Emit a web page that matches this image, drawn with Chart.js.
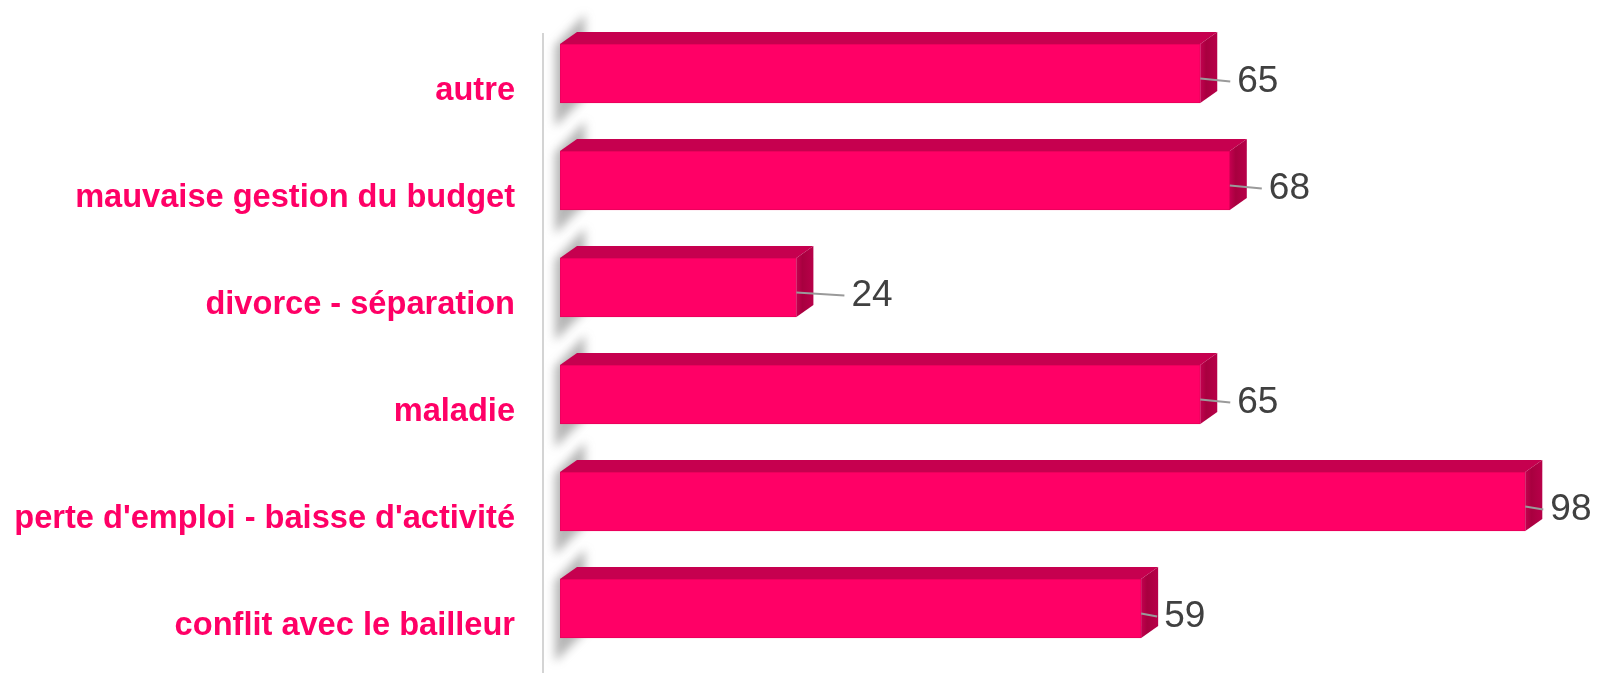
<!DOCTYPE html>
<html>
<head>
<meta charset="utf-8">
<script src="https://cdn.jsdelivr.net/npm/chart.js@4.4.1/dist/chart.umd.min.js"></script>
<style>
  html, body { margin: 0; padding: 0; background: #fff; }
  #wrap { width: 1603px; height: 673px; position: relative; }
</style>
</head>
<body>
<div id="wrap"><canvas id="causesChart"></canvas></div>
<script>
// données
var categories = ['autre', 'mauvaise gestion du budget', 'divorce - séparation', 'maladie', "perte d'emploi - baisse d'activité", 'conflit avec le bailleur'];
var values = [65, 68, 24, 65, 98, 59];

var FONT = '"Liberation Sans", Arial, sans-serif';
var DX = 17, DY = 12;

// ombre grise derrière le bord gauche des barres + ligne d'axe
var wallShadow = {
    id: 'wallShadow',
    beforeDatasetsDraw: function (chart) {
        var ctx = chart.ctx;
        var area = chart.chartArea;
        ctx.save();
        ctx.strokeStyle = '#d4d4d4';
        ctx.lineWidth = 2;
        ctx.beginPath();
        ctx.moveTo(area.left - 17, area.top + 13);
        ctx.lineTo(area.left - 17, chart.height);
        ctx.stroke();

        ctx.filter = 'blur(5px)';
        ctx.fillStyle = 'rgba(90,90,90,0.45)';
        chart.getDatasetMeta(0).data.forEach(function (bar) {
            var x0 = bar.base;
            var top = bar.y - bar.height / 2;
            var bottom = bar.y + bar.height / 2;
            ctx.beginPath();
            ctx.moveTo(x0 - 5, bottom + 24);
            ctx.lineTo(x0 - 5, top + 2);
            ctx.lineTo(x0 + DX + 8, top - DY - 18);
            ctx.lineTo(x0 + DX + 8, bottom - DY + 6);
            ctx.closePath();
            ctx.fill();
        });
        ctx.restore();
    }
};

// faces 3D (dessus + côté) et étiquettes de valeur
var bars3d = {
    id: 'bars3d',
    afterDatasetsDraw: function (chart, args, opts) {
        var ctx = chart.ctx;
        var ds = chart.data.datasets[0];
        ctx.save();
        chart.getDatasetMeta(0).data.forEach(function (bar, i) {
            var x0 = bar.base, x1 = bar.x;
            var top = bar.y - bar.height / 2;
            var bottom = bar.y + bar.height / 2;

            // dessus
            ctx.fillStyle = '#c6004f';
            ctx.beginPath();
            ctx.moveTo(x0, top);
            ctx.lineTo(x0 + DX, top - DY);
            ctx.lineTo(x1 + DX, top - DY);
            ctx.lineTo(x1, top);
            ctx.closePath();
            ctx.fill();

            // côté
            var g = ctx.createLinearGradient(x1, 0, x1 + DX, 0);
            g.addColorStop(0, '#c40050');
            g.addColorStop(0.35, '#a8003f');
            g.addColorStop(1, '#b80049');
            ctx.fillStyle = g;
            ctx.beginPath();
            ctx.moveTo(x1, top);
            ctx.lineTo(x1 + DX, top - DY);
            ctx.lineTo(x1 + DX, bottom - DY);
            ctx.lineTo(x1, bottom);
            ctx.closePath();
            ctx.fill();

            // étiquette + trait
            var lx = x1 + DX + opts.gaps[i];
            var ly = bar.y + 8;
            ctx.strokeStyle = '#9a9a9a';
            ctx.lineWidth = 2;
            ctx.beginPath();
            ctx.moveTo(x1, bar.y + 5);
            ctx.lineTo(Math.max(lx - 7, x1 + 14), ly);
            ctx.stroke();

            ctx.fillStyle = '#404040';
            ctx.font = '37px ' + FONT;
            ctx.textAlign = 'left';
            ctx.textBaseline = 'middle';
            ctx.fillText(String(ds.data[i]), lx, ly);
        });
        ctx.restore();
    }
};

var ctx1 = document.getElementById('causesChart').getContext('2d');
var causesChart = new Chart(ctx1, {
    type: 'bar',
    data: {
        labels: categories,
        datasets: [{
            data: values,
            backgroundColor: '#ff0066',
            borderColor: '#e6005a',
            borderWidth: 1,
            borderSkipped: false,
            barThickness: 59
        }]
    },
    options: {
        indexAxis: 'y',
        responsive: true,
        maintainAspectRatio: false,
        animation: false,
        layout: { padding: { top: 20, bottom: 11, left: 0, right: 58 } },
        plugins: {
            legend: { display: false },
            tooltip: { enabled: false },
            bars3d: { gaps: [20, 22, 38, 20, 8, 6] }
        },
        scales: {
            x: { display: false, min: 0, max: 100 },
            y: {
                afterFit: function (scale) {
                    scale.width = 560;
                    scale.paddingTop = 0;
                    scale.paddingBottom = 0;
                },
                grid: { display: false },
                border: { display: false },
                ticks: {
                    color: '#ff0066',
                    padding: 37,
                    labelOffset: 18,
                    font: { family: FONT, size: 32.6, weight: 'bold' }
                }
            }
        }
    },
    plugins: [wallShadow, bars3d]
});
</script>
</body>
</html>
